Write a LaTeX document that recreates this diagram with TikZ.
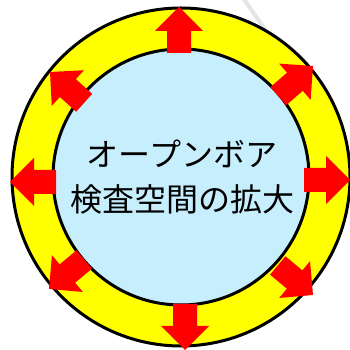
\documentclass[tikz,border=0pt]{standalone}
\usepackage{fontspec}
\newfontfamily\cjk{Noto Sans CJK JP}
\definecolor{boreblue}{RGB}{199,238,253}
\definecolor{ringyellow}{RGB}{255,255,0}
\newcommand{\expandarrow}[3]{%
  \fill[arrowfill, shift={(#1,#2)}, rotate=#3]
    (0,0) -- (-24,24) -- (-24,12) -- (-46,12) -- (-46,-12) -- (-24,-12) -- (-24,-24) -- cycle;}
\begin{document}
\begin{tikzpicture}[x=1pt,y=1pt,
  ring/.style={draw=black, line width=3pt},
  arrowfill/.style={fill=red},
  label/.style={font=\cjk\fontsize{32}{45}\selectfont, align=center, text=black}]
\useasboundingbox (0,0) rectangle (350,350);
\fill[white] (0,0) rectangle (350,350);
\draw[gray!20, line width=4pt, line cap=round] (243,352) -- (264,322);
% outer ring
\draw[ring, fill=ringyellow] (181,173) circle (169);
% inner bore
\draw[ring, fill=boreblue] (181,173) circle (128);
% arrows (tip x, tip y, angle)
\expandarrow{179}{343}{90}
\expandarrow{313}{284}{41}
\expandarrow{350}{170}{0}
\expandarrow{313}{55}{-40}
\expandarrow{185}{0}{-90}
\expandarrow{49}{61}{-140}
\expandarrow{10}{168}{180}
\expandarrow{50}{278}{138}
\node[label] (txt) at (182,173) {オープンボア\\検査空間の拡大};
\end{tikzpicture}
\end{document}
